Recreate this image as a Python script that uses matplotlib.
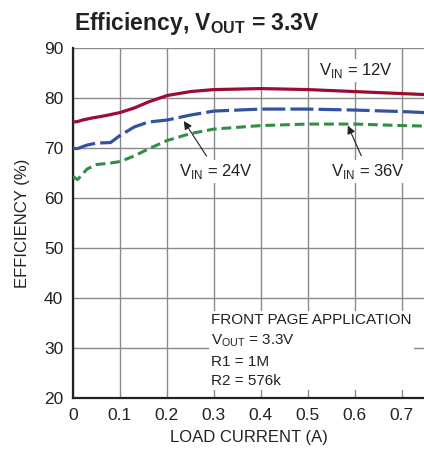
import matplotlib
matplotlib.use("Agg")

import matplotlib.pyplot as plt
import numpy as np

# load current (A) and efficiency (%)
i_12v = [0.0, 0.01, 0.02, 0.04, 0.07, 0.10, 0.13, 0.16, 0.20, 0.25, 0.30, 0.40, 0.50, 0.60, 0.70, 0.75]
eff_12v = [75.2, 75.3, 75.6, 76.0, 76.5, 77.1, 78.0, 79.2, 80.5, 81.3, 81.7, 81.9, 81.7, 81.3, 80.9, 80.7]

i_24v = [0.0, 0.01, 0.03, 0.05, 0.08, 0.10, 0.13, 0.16, 0.20, 0.25, 0.30, 0.40, 0.50, 0.60, 0.70, 0.75]
eff_24v = [69.9, 69.9, 70.6, 71.0, 71.1, 72.5, 74.2, 75.2, 75.6, 76.6, 77.4, 77.8, 77.8, 77.6, 77.3, 77.1]

i_36v = [0.0, 0.01, 0.03, 0.05, 0.08, 0.10, 0.13, 0.16, 0.20, 0.25, 0.30, 0.40, 0.50, 0.60, 0.70, 0.75]
eff_36v = [64.3, 63.7, 65.8, 66.7, 67.0, 67.3, 68.4, 69.8, 71.5, 72.9, 73.8, 74.5, 74.8, 74.8, 74.5, 74.4]

x_ticks = [0, 0.1, 0.2, 0.3, 0.4, 0.5, 0.6, 0.7]
x_tick_labels = ["0", "0.1", "0.2", "0.3", "0.4", "0.5", "0.6", "0.7"]
y_ticks = [20, 30, 40, 50, 60, 70, 80, 90]

FONT = "Liberation Sans"
plt.rcParams["font.family"] = [FONT, "DejaVu Sans"]
plt.rcParams["mathtext.fontset"] = "custom"
plt.rcParams["mathtext.rm"] = FONT
plt.rcParams["mathtext.bf"] = FONT + ":bold"

TXT = "#222222"
fig = plt.figure(figsize=(4.24, 4.58), dpi=100)
ax = fig.add_axes([0.172, 0.131, 0.828, 0.764])

ax.plot(i_12v, eff_12v, color="#9b0d33", lw=2.3, solid_capstyle="butt", zorder=3)
ax.plot(i_24v, eff_24v, color="#3452a4", lw=2.3, dashes=(7.2, 1.6), zorder=3)
ax.plot(i_36v, eff_36v, color="#2f8f45", lw=2.2, dashes=(3.2, 1.6), zorder=3)

ax.set_xlim(0, 0.747)
ax.set_ylim(20, 90)
ax.set_xticks(x_ticks)
ax.set_xticklabels(x_tick_labels)
ax.set_yticks(y_ticks)
ax.grid(True, color="#8a8a8a", lw=1.0)
ax.tick_params(length=0, labelsize=12.5, pad=7, colors=TXT)
for side in ["left", "bottom"]:
    ax.spines[side].set_linewidth(1.6)
    ax.spines[side].set_color(TXT)
for side in ["top", "right"]:
    ax.spines[side].set_visible(False)

ax.set_xlabel("LOAD CURRENT (A)", fontsize=12, color=TXT, labelpad=5)
ax.set_ylabel("EFFICIENCY (%)", fontsize=12, color=TXT, labelpad=10)

fig.text(0.174, 0.948, r"Efficiency, V$_{\mathbf{OUT}}$ = 3.3V", fontsize=16.5,
         fontweight="bold", color=TXT, va="center")

box = dict(fc="white", ec="none", pad=1.5)
ax.text(0.523, 85.6, r"V$_{\mathrm{IN}}$ = 12V", fontsize=12, va="center",
        color=TXT, bbox=box, zorder=4)
arrow = dict(arrowstyle="-|>", color=TXT, lw=0.8, mutation_scale=12,
             shrinkA=3, shrinkB=0)
ax.annotate(r"V$_{\mathrm{IN}}$ = 24V", xy=(0.236, 75.4), xytext=(0.305, 65.4),
            fontsize=12, ha="center", va="center", color=TXT, bbox=box,
            arrowprops=arrow, zorder=4)
ax.annotate(r"V$_{\mathrm{IN}}$ = 36V", xy=(0.585, 74.5), xytext=(0.628, 65.4),
            fontsize=12, ha="center", va="center", color=TXT, bbox=box,
            arrowprops=arrow, zorder=4)

ax.text(0.294, 37.0,
        "FRONT PAGE APPLICATION\n" r"V$_{\mathrm{OUT}}$ = 3.3V" "\nR1 = 1M\nR2 = 576k",
        fontsize=11, va="top", ha="left", color=TXT, linespacing=1.48,
        bbox=box, zorder=4)

fig.savefig("out.png", dpi=100)
